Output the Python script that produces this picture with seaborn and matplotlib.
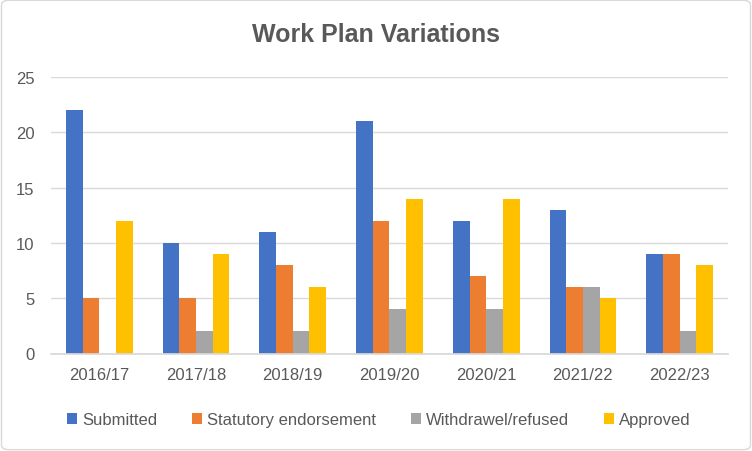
import matplotlib
matplotlib.use("Agg")
import matplotlib.pyplot as plt
import seaborn as sns
import pandas as pd
from matplotlib.patches import FancyBboxPatch

years = ["2016/17", "2017/18", "2018/19", "2019/20", "2020/21", "2021/22", "2022/23"]
series = ["Submitted", "Statutory endorsement", "Withdrawel/refused", "Approved"]
submitted = [22, 10, 11, 21, 12, 13, 9]
statutory = [5, 5, 8, 12, 7, 6, 9]
withdrawn = [0, 2, 2, 4, 4, 6, 2]
approved = [12, 9, 6, 14, 14, 5, 8]
colors = ["#4472C4", "#ED7D31", "#A5A5A5", "#FFC000"]

rows = []
for name, vals in zip(series, [submitted, statutory, withdrawn, approved]):
    for y, v in zip(years, vals):
        rows.append({"Year": y, "Series": name, "Value": v})
df = pd.DataFrame(rows)

sns.set_theme(style="white")
plt.rcParams["font.family"] = ["Liberation Sans", "DejaVu Sans"]

fig = plt.figure(figsize=(7.52, 4.52), dpi=100)
ax = fig.add_axes([51 / 752, 1 - 354.5 / 452, 677 / 752, 276.5 / 452])

sns.barplot(data=df, x="Year", y="Value", hue="Series", hue_order=series,
            palette=colors, width=0.69, gap=0, ax=ax, saturation=1,
            edgecolor="none", legend=True)

ax.set_xlim(-0.5, len(years) - 0.5)
ax.set_ylim(0, 25)
ax.set_yticks(range(0, 26, 5))
ax.yaxis.grid(True, color="#D9D9D9", linewidth=1)
ax.set_axisbelow(True)
for s in ["top", "right", "left"]:
    ax.spines[s].set_visible(False)
ax.spines["bottom"].set_color("#D9D9D9")
ax.tick_params(axis="both", length=0, colors="#595959", labelsize=12)
ax.tick_params(axis="x", pad=10)
ax.tick_params(axis="y", pad=12)
ax.set_xlabel("")
ax.set_ylabel("")

leg = ax.legend(loc="center", ncol=4, frameon=False, fontsize=12,
                handlelength=0.6, handleheight=0.6,
                columnspacing=2.1, handletextpad=0.3, borderaxespad=0)
leg.set_bbox_to_anchor((379 / 752, 1 - 421 / 452), transform=fig.transFigure)
for t in leg.get_texts():
    t.set_color("#595959")

fig.text(376 / 752, 1 - 35 / 452, "Work Plan Variations", ha="center", va="center",
         fontsize=18, fontweight="bold", color="#595959")

border = FancyBboxPatch((0.002, 0.003), 0.996, 0.994, boxstyle="round,pad=0,rounding_size=0.01",
                        transform=fig.transFigure, fill=False, edgecolor="#D9D9D9", linewidth=1)
fig.patches.append(border)

fig.savefig("out.png", dpi=100)
